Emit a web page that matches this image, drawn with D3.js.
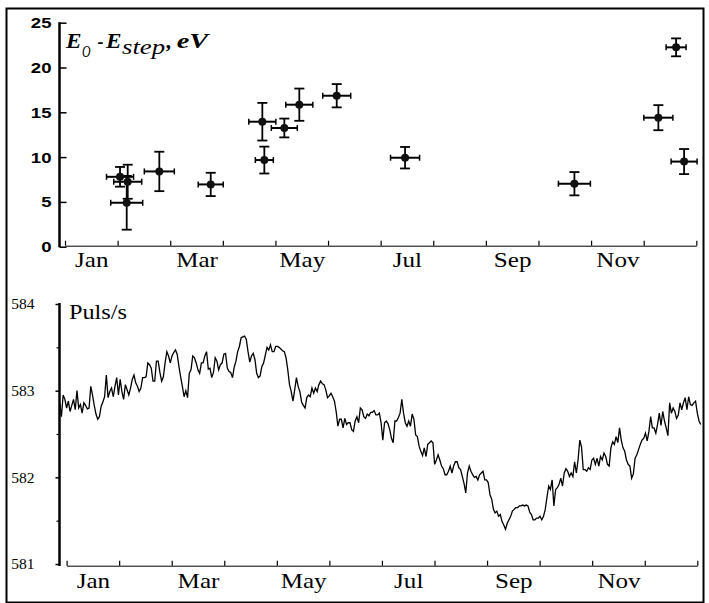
<!DOCTYPE html>
<html><head><meta charset="utf-8">
<script src="https://cdn.jsdelivr.net/npm/d3@7"></script>
<style>body{margin:0;background:#fff}svg{display:block}</style>
</head><body>
<script>
// ---------- data ----------
const monthNames = ["Jan","Feb","Mar","Apr","May","Jun","Jul","Aug","Sep","Oct","Nov","Dec"];
const shownMonths = ["Jan","Mar","May","Jul","Sep","Nov"];

// top panel: E0 - Estep (eV), x in months since Jan 1
const energyMonth    = [1.046, 1.192, 1.173, 1.793, 2.770, 3.751, 3.789, 4.169, 4.454, 5.165, 6.464, 9.683, 11.279, 11.616, 11.768];
const energyValue    = [7.8, 7.25, 4.9, 8.4, 6.95, 13.95, 9.67, 13.25, 15.85, 16.85, 9.93, 7.03, 14.4, 22.25, 9.5];
const energyErrMonth = [0.257, 0.266, 0.304, 0.285, 0.238, 0.257, 0.171, 0.247, 0.257, 0.266, 0.276, 0.304, 0.276, 0.190, 0.247];
const energyErrValue = [1.1, 1.9, 3.0, 2.2, 1.3, 2.1, 1.5, 1.05, 1.8, 1.3, 1.2, 1.3, 1.4, 1.0, 1.4];
const energyTicks = [0, 5, 10, 15, 20, 25];

// bottom panel: daily count rate (Puls/s), starting at day -4
const pulsTicks = [581, 582, 583, 584];
const pulsMinorTicks = [581.5, 582.5, 583.5];
const pulsStartDay = -4, pulsStepDays = 1;
const pulsValues = [
582.86,582.70, 582.95,582.90, 582.80,582.88, 582.76,582.83, 582.90,582.78,
583.00,582.80, 582.84,582.74, 582.86,582.83, 582.79,582.80, 583.05,582.95,
582.83,582.73, 582.67,582.70, 582.82,582.87, 582.93,583.18, 582.92,582.99,
583.03,582.93, 583.05,583.15, 582.95,583.13, 582.99,582.90, 583.07,583.01,
582.95,583.03, 583.13,583.18, 583.09,583.05, 582.99,583.03, 583.15,583.15,
583.16,583.32, 583.30,583.26, 583.11,583.11, 583.34,583.34, 583.21,583.11,
583.16,583.32, 583.45,583.40, 583.32,583.40, 583.44,583.47, 583.42,583.28,
583.16,583.05, 582.93,583.00, 582.92,583.20, 583.24,583.40, 583.38,583.32,
583.24,583.20, 583.32,583.32, 583.40,583.45, 583.25,583.26, 583.15,583.21,
583.38,583.34, 583.24,583.30, 583.32,583.42, 583.43,583.26, 583.22,583.21,
583.15,583.27, 583.34,583.45, 583.51,583.61, 583.62,583.63, 583.59,583.45,
583.33,583.40, 583.43,583.36, 583.20,583.15, 583.17,583.28, 583.32,583.41,
583.50,583.47, 583.53,583.45, 583.45,583.51, 583.51,583.50, 583.48,583.46,
583.45,583.38, 583.24,583.07, 582.99,582.88, 583.01,583.15, 583.05,582.99,
582.87,582.83, 582.80,582.92, 582.95,582.93, 583.03,582.97, 583.03,582.99,
583.07,583.11, 583.08,583.07, 583.01,582.92, 582.94,582.97, 582.93,582.88,
582.76,582.59, 582.67,582.67, 582.57,582.68, 582.61,582.63, 582.63,582.55,
582.53,582.65, 582.70,582.63, 582.80,582.78, 582.70,582.68, 582.73,582.71,
582.75,582.75, 582.77,582.72, 582.72,582.74, 582.63,582.43, 582.63,582.65,
582.62,582.55, 582.45,582.40, 582.65,582.65, 582.69,582.74, 582.90,582.74,
582.63,582.59, 582.65,582.59, 582.73,582.67, 582.49,582.47, 582.36,582.30,
582.25,582.34, 582.24,582.38, 582.40,582.42, 582.40,582.15, 582.20,582.26,
582.20,582.13, 582.10,582.03, 582.03,582.07, 582.13,582.05, 582.13,582.18,
582.18,582.11, 582.09,582.01, 581.93,581.82, 582.05,582.13, 582.07,582.03,
582.00,582.01, 581.97,582.03, 582.05,582.07, 581.97,581.97, 581.94,581.80,
581.75,581.63, 581.59,581.61, 581.55,581.57, 581.49,581.45, 581.40,581.47,
581.51,581.55, 581.61,581.63, 581.65,581.65, 581.67,581.67, 581.68,581.67,
581.68,581.67, 581.60,581.57, 581.51,581.51, 581.53,581.53, 581.55,581.51,
581.55,581.63, 581.77,581.90, 581.86,581.97, 581.67,581.86, 581.88,581.92,
581.99,581.90, 582.05,582.10, 582.07,582.01, 582.05,582.01, 582.18,582.05,
582.20,582.43, 582.35,582.09, 582.09,582.07, 582.11,582.09, 582.20,582.22,
582.15,582.22, 582.13,582.24, 582.20,582.28, 582.24,582.15, 582.13,582.34,
582.41,582.38, 582.47,582.40, 582.57,582.43, 582.34,582.30, 582.20,582.15,
582.13,581.99, 582.04,582.22, 582.26,582.32, 582.38,582.43, 582.45,582.51,
582.42,582.53, 582.70,582.57, 582.57,582.51, 582.61,582.74, 582.60,582.76,
582.65,582.57, 582.48,582.86, 582.74,582.80, 582.76,582.68, 582.72,582.86,
582.78,582.86, 582.92,582.78, 582.93,582.84, 582.83,582.86, 582.88,582.74,
582.65,582.61
];

// ---------- drawing ----------
const W = 709, H = 603;
const SERIF = "Liberation Serif", SANS = "Liberation Sans";
const svg = d3.select("body").append("svg").attr("width", W).attr("height", H);
svg.append("rect").attr("width", W).attr("height", H).attr("fill", "#fff");
svg.append("rect").attr("x", 6.5).attr("y", 8.5).attr("width", 697).attr("height", 594)
  .attr("fill", "none").attr("stroke", "#000").attr("stroke-width", 2);

// ===== top panel =====
const xTop = d3.scaleLinear().domain([0, 12]).range([65, 696.3]);
const yTop = d3.scaleLinear().domain([0, 25]).range([246.7, 22.7]);

const gyT = svg.append("g").attr("transform", "translate(59.5,0)")
  .call(d3.axisLeft(yTop).tickValues(energyTicks).tickSize(-7).tickPadding(9));
gyT.select(".domain").remove();
gyT.selectAll("line").attr("stroke", "#000").attr("stroke-width", 1.5);
gyT.selectAll("text").attr("font-family", SANS).attr("font-weight", "bold")
  .attr("font-size", 15.5).attr("fill", "#000").attr("x", -8 / 1.2).attr("transform", "scale(1.2,1)");
svg.append("line").attr("x1", 59.5).attr("x2", 59.5).attr("y1", yTop(25) - 0.5).attr("y2", yTop(0) + 0.5)
  .attr("stroke", "#000").attr("stroke-width", 2.5);

const gxT = svg.append("g").attr("transform", "translate(0,245.7)")
  .call(d3.axisBottom(xTop).tickValues(d3.range(13)).tickSize(-5).tickSizeOuter(0).tickFormat(""));
gxT.select(".domain").attr("stroke", "#000").attr("stroke-width", 1);
gxT.selectAll("line").attr("stroke", "#000").attr("stroke-width", 1.2);

const gxTL = svg.append("g").attr("transform", "translate(0,245.7)")
  .call(d3.axisBottom(xTop).tickValues(shownMonths.map(m => monthNames.indexOf(m) + 0.5))
    .tickSize(0).tickFormat((d, i) => shownMonths[i]));
gxTL.select(".domain").remove();
gxTL.selectAll("text").attr("y", 21).attr("dy", 0).attr("font-family", SERIF).attr("font-size", 22)
  .attr("fill", "#000").attr("transform", "scale(1.14,1)");

// error bars + points
const eg = svg.append("g");
const idx = d3.range(energyValue.length);
eg.selectAll("line.vbar").data(idx).join("line").attr("class", "vbar")
  .attr("x1", i => xTop(energyMonth[i])).attr("x2", i => xTop(energyMonth[i]))
  .attr("y1", i => yTop(energyValue[i] + energyErrValue[i])).attr("y2", i => yTop(energyValue[i] - energyErrValue[i]))
  .attr("stroke", "#000").attr("stroke-width", 1.8);
[1, -1].forEach(s => {
  eg.append("g").selectAll("line").data(idx).join("line")
    .attr("x1", i => xTop(energyMonth[i]) - 5).attr("x2", i => xTop(energyMonth[i]) + 5)
    .attr("y1", i => yTop(energyValue[i] + s * energyErrValue[i]))
    .attr("y2", i => yTop(energyValue[i] + s * energyErrValue[i]))
    .attr("stroke", "#000").attr("stroke-width", 1.8);
  eg.append("g").selectAll("line").data(idx).join("line")
    .attr("x1", i => xTop(energyMonth[i] + s * energyErrMonth[i]))
    .attr("x2", i => xTop(energyMonth[i] + s * energyErrMonth[i]))
    .attr("y1", i => yTop(energyValue[i]) - 3).attr("y2", i => yTop(energyValue[i]) + 3)
    .attr("stroke", "#000").attr("stroke-width", 1.5);
});
eg.selectAll("line.hbar").data(idx).join("line").attr("class", "hbar")
  .attr("x1", i => xTop(energyMonth[i] - energyErrMonth[i])).attr("x2", i => xTop(energyMonth[i] + energyErrMonth[i]))
  .attr("y1", i => yTop(energyValue[i])).attr("y2", i => yTop(energyValue[i]))
  .attr("stroke", "#000").attr("stroke-width", 2);
eg.selectAll("circle").data(idx).join("circle")
  .attr("cx", i => xTop(energyMonth[i])).attr("cy", i => yTop(energyValue[i])).attr("r", 4)
  .attr("fill", "#111");

// title E_O - E_step, eV
const tg = svg.append("g").attr("fill", "#000");
const piece = (txt, x, y, size, bold, w) => {
  const t = tg.append("text").attr("font-family", SERIF).attr("x", x).attr("y", y).attr("font-size", size)
    .attr("font-style", "italic").attr("font-weight", bold ? "bold" : "normal").text(txt);
  if (w) t.attr("textLength", w).attr("lengthAdjust", "spacingAndGlyphs");
};
piece("E", 66, 47.7, 22, true, 15.5);
piece("O", 82, 56.5, 17, false, 8.5);
piece("-", 97.5, 47.7, 22, true, 6);
piece("E", 106, 47.7, 22, true, 15.5);
piece("step", 122, 53.5, 20, false, 43);
piece(",", 166.5, 47.7, 22, true);
piece("eV", 176.7, 47.7, 22, true, 31.5);

// ===== bottom panel =====
const xBot = d3.scaleLinear().domain([0, 365]).range([66.6, 697.3]);
const yBot = d3.scaleLinear().domain([581, 584]).range([564, 304]);

const gyB = svg.append("g").attr("transform", "translate(59.5,0)")
  .call(d3.axisLeft(yBot).tickValues(pulsTicks).tickSize(4).tickPadding(21).tickFormat(d3.format("d")));
gyB.select(".domain").remove();
gyB.selectAll("line").attr("stroke", "#000").attr("stroke-width", 1.5);
gyB.selectAll("text").attr("font-family", SERIF).attr("font-size", 15.5).attr("fill", "#000");
const gyBm = svg.append("g").attr("transform", "translate(59.5,0)")
  .call(d3.axisLeft(yBot).tickValues(pulsMinorTicks).tickSize(3).tickFormat(""));
gyBm.select(".domain").remove();
gyBm.selectAll("line").attr("stroke", "#000").attr("stroke-width", 1.2);
svg.append("line").attr("x1", 59.5).attr("x2", 59.5).attr("y1", yBot(584) - 1).attr("y2", yBot(581) + 2)
  .attr("stroke", "#000").attr("stroke-width", 2.5);

const monthTicks = d3.range(13).map(i => i * 365 / 12);
const gxB = svg.append("g").attr("transform", "translate(0,565.7)")
  .call(d3.axisBottom(xBot).tickValues(monthTicks).tickSize(-5).tickSizeOuter(0).tickFormat(""));
gxB.select(".domain").attr("stroke", "#000").attr("stroke-width", 1);
gxB.selectAll("line").attr("stroke", "#000").attr("stroke-width", 1.2);

const gxBL = svg.append("g").attr("transform", "translate(0,565.7)")
  .call(d3.axisBottom(xBot).tickValues(shownMonths.map(m => (monthNames.indexOf(m) + 0.5) * 365 / 12))
    .tickSize(0).tickFormat((d, i) => shownMonths[i]));
gxBL.select(".domain").remove();
gxBL.selectAll("text").attr("y", 22.3).attr("dy", 0).attr("font-family", SERIF).attr("font-size", 22)
  .attr("fill", "#000").attr("transform", "scale(1.14,1)");

svg.append("text").attr("font-family", SERIF).attr("x", 69).attr("y", 319).attr("font-size", 21)
  .attr("textLength", 58).attr("lengthAdjust", "spacingAndGlyphs").attr("fill", "#000").text("Puls/s");

const line = d3.line()
  .x((d, i) => xBot(pulsStartDay + i * pulsStepDays))
  .y(d => yBot(d));
svg.append("path").datum(pulsValues).attr("d", line).attr("fill", "none")
  .attr("stroke", "#000").attr("stroke-width", 1.3).attr("stroke-linejoin", "miter");
</script>
</body></html>
